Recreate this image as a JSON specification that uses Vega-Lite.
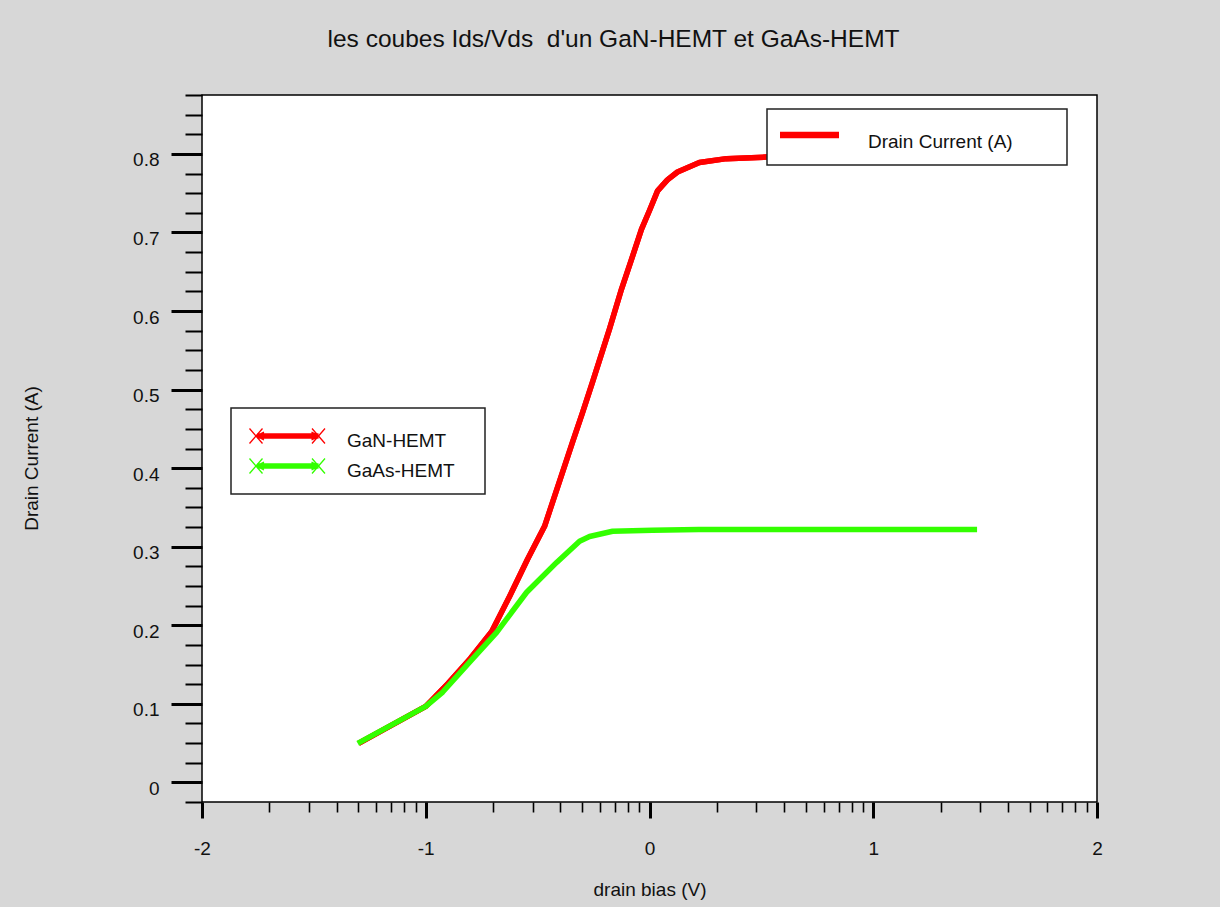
{
  "$schema": "https://vega.github.io/schema/vega-lite/v6.json",
  "width": 895,
  "height": 707,
  "autosize": {"type": "none"},
  "padding": {"left": 202, "top": 95, "right": 123, "bottom": 105},
  "background": "#d7d7d7",
  "title": {
    "text": "les coubes Ids/Vds\u00a0 d'un GaN-HEMT et GaAs-HEMT",
    "anchor": "middle",
    "frame": "group",
    "baseline": "alphabetic",
    "offset": 21,
    "dx": -36,
    "font": "Liberation Sans",
    "fontSize": 24.5,
    "fontWeight": "normal",
    "color": "#111111"
  },
  "config": {
    "view": {"fill": "white", "stroke": "#000000", "strokeWidth": 1.5},
    "font": "Liberation Sans",
    "axis": {
      "grid": false,
      "domain": false,
      "tickColor": "#000000",
      "labelFont": "Liberation Sans",
      "labelFontSize": 19,
      "labelColor": "#111111",
      "labelFlush": false,
      "labelOverlap": false,
      "labelBound": false,
      "titleFont": "Liberation Sans",
      "titleFontSize": 19,
      "titleFontWeight": "normal",
      "titleColor": "#111111"
    },
    "legend": {
      "strokeColor": "#222222",
      "strokeWidth": 1.5,
      "fillColor": "white",
      "labelFont": "Liberation Sans",
      "labelFontSize": 19,
      "labelColor": "#111111",
      "labelBaseline": "top",
      "symbolSize": 400,
      "symbolStrokeWidth": 1.3,
      "titleOrient": "right",
      "titleFontSize": 1,
      "titleColor": "white"
    }
  },
  "data": {
    "values": [
      {"device": "GaN-HEMT", "vds": -1.3, "ids": 0.0497},
      {"device": "GaN-HEMT", "vds": -1.0, "ids": 0.0968},
      {"device": "GaN-HEMT", "vds": -0.9, "ids": 0.126},
      {"device": "GaN-HEMT", "vds": -0.8, "ids": 0.158},
      {"device": "GaN-HEMT", "vds": -0.705, "ids": 0.192},
      {"device": "GaN-HEMT", "vds": -0.625, "ids": 0.237},
      {"device": "GaN-HEMT", "vds": -0.545, "ids": 0.284},
      {"device": "GaN-HEMT", "vds": -0.469, "ids": 0.326},
      {"device": "GaN-HEMT", "vds": -0.4, "ids": 0.385},
      {"device": "GaN-HEMT", "vds": -0.344, "ids": 0.433},
      {"device": "GaN-HEMT", "vds": -0.3, "ids": 0.47},
      {"device": "GaN-HEMT", "vds": -0.254, "ids": 0.51},
      {"device": "GaN-HEMT", "vds": -0.179, "ids": 0.577},
      {"device": "GaN-HEMT", "vds": -0.125, "ids": 0.628},
      {"device": "GaN-HEMT", "vds": -0.08, "ids": 0.666},
      {"device": "GaN-HEMT", "vds": -0.036, "ids": 0.704},
      {"device": "GaN-HEMT", "vds": 0.0, "ids": 0.728},
      {"device": "GaN-HEMT", "vds": 0.036, "ids": 0.753},
      {"device": "GaN-HEMT", "vds": 0.08, "ids": 0.767},
      {"device": "GaN-HEMT", "vds": 0.125, "ids": 0.777},
      {"device": "GaN-HEMT", "vds": 0.223, "ids": 0.789},
      {"device": "GaN-HEMT", "vds": 0.344, "ids": 0.794},
      {"device": "GaN-HEMT", "vds": 0.522, "ids": 0.796},
      {"device": "GaN-HEMT", "vds": 0.8, "ids": 0.797},
      {"device": "GaN-HEMT", "vds": 1.1, "ids": 0.797},
      {"device": "GaN-HEMT", "vds": 1.464, "ids": 0.797},
      {"device": "GaAs-HEMT", "vds": -1.304, "ids": 0.0497},
      {"device": "GaAs-HEMT", "vds": -1.0, "ids": 0.0968},
      {"device": "GaAs-HEMT", "vds": -0.924, "ids": 0.115},
      {"device": "GaAs-HEMT", "vds": -0.804, "ids": 0.153},
      {"device": "GaAs-HEMT", "vds": -0.683, "ids": 0.191},
      {"device": "GaAs-HEMT", "vds": -0.549, "ids": 0.242},
      {"device": "GaAs-HEMT", "vds": -0.415, "ids": 0.28},
      {"device": "GaAs-HEMT", "vds": -0.3125, "ids": 0.307},
      {"device": "GaAs-HEMT", "vds": -0.268, "ids": 0.313},
      {"device": "GaAs-HEMT", "vds": -0.165, "ids": 0.3197},
      {"device": "GaAs-HEMT", "vds": 0.013, "ids": 0.321},
      {"device": "GaAs-HEMT", "vds": 0.22, "ids": 0.322},
      {"device": "GaAs-HEMT", "vds": 1.464, "ids": 0.322}
    ]
  },
  "encoding": {
    "x": {
      "field": "vds",
      "type": "quantitative",
      "scale": {"domain": [-2, 2], "nice": false, "zero": false},
      "axis": {
        "title": "drain bias (V)",
        "values": [-2, -1.69897, -1.52288, -1.39794, -1.30103, -1.22185, -1.1549, -1.09691, -1.04576, -1, -0.69897, -0.52288, -0.39794, -0.30103, -0.22185, -0.1549, -0.09691, -0.04576, 0, 0.30103, 0.47712, 0.60206, 0.69897, 0.77815, 0.8451, 0.90309, 0.95424, 1, 1.30103, 1.47712, 1.60206, 1.69897, 1.77815, 1.8451, 1.90309, 1.95424, 2],
        "labelExpr": "datum.value === round(datum.value) ? '' + datum.value : ''",
        "tickSize": {"condition": {"test": "datum.value === round(datum.value)", "value": 16}, "value": 10},
        "tickWidth": {"condition": {"test": "datum.value === round(datum.value)", "value": 3}, "value": 1.6},
        "labelBaseline": "alphabetic",
        "labelPadding": 36,
        "titleBaseline": "alphabetic",
        "titleY": 93
      }
    },
    "y": {
      "field": "ids",
      "type": "quantitative",
      "scale": {"domain": [-0.025, 0.875], "nice": false, "zero": false},
      "axis": {
        "title": "Drain Current (A)",
        "values": [-0.025, 0, 0.025, 0.05, 0.075, 0.1, 0.125, 0.15, 0.175, 0.2, 0.225, 0.25, 0.275, 0.3, 0.325, 0.35, 0.375, 0.4, 0.425, 0.45, 0.475, 0.5, 0.525, 0.55, 0.575, 0.6, 0.625, 0.65, 0.675, 0.7, 0.725, 0.75, 0.775, 0.8, 0.825, 0.85, 0.875],
        "labelExpr": "abs(datum.value * 10 - round(datum.value * 10)) < 0.001 && datum.value > -0.01 ? '' + round(datum.value * 10) / 10 : ''",
        "tickSize": {"condition": {"test": "abs(datum.value * 10 - round(datum.value * 10)) < 0.001 && datum.value > -0.01", "value": 31}, "value": 17},
        "tickWidth": {"condition": {"test": "abs(datum.value * 10 - round(datum.value * 10)) < 0.001 && datum.value > -0.01", "value": 3}, "value": 2},
        "labelBaseline": "alphabetic",
        "labelOffset": 12,
        "labelPadding": 12,
        "titleBaseline": "alphabetic",
        "titleAngle": 270,
        "titleX": -165,
        "titleY": 363
      }
    }
  },
  "layer": [
    {
      "transform": [{"filter": "datum.device === 'GaN-HEMT'"}],
      "mark": {"type": "line", "strokeWidth": 5.5, "strokeJoin": "round"},
      "encoding": {
        "color": {
          "datum": "Drain Current (A)",
          "type": "nominal",
          "scale": {"domain": ["Drain Current (A)"], "range": ["#ff0000"]},
          "legend": {
            "title": "\u00a0",
            "titlePadding": 41,
            "orient": "none",
            "legendX": 565,
            "legendY": 14,
            "padding": 13,
            "symbolType": "M-2.95,-0.05L2.95,-0.05M-2.95,0.05L2.95,0.05M-2.95,0.15L2.95,0.15M-2.95,0.25L2.95,0.25M-2.95,0.35L2.95,0.35M-2.95,0.45L2.95,0.45",
            "symbolOffset": 18.5,
            "labelOffset": 47.5
          }
        }
      }
    },
    {
      "mark": {"type": "line", "strokeWidth": 5.5, "strokeJoin": "round"},
      "encoding": {
        "color": {
          "field": "device",
          "type": "nominal",
          "sort": ["GaN-HEMT", "GaAs-HEMT"],
          "scale": {"domain": ["GaN-HEMT", "GaAs-HEMT"], "range": ["#ff0000", "#33ff00"]},
          "legend": {
            "title": "\u00a0",
            "titlePadding": 17,
            "orient": "none",
            "legendX": 29,
            "legendY": 313,
            "padding": 13,
            "rowPadding": 0,
            "symbolType": "M-3.2,0.2L2.95,0.2M-3.2,0.3L2.95,0.3M-3.2,0.4L2.95,0.4M-3.2,0.5L2.95,0.5M-3.2,0.6L2.95,0.6M-3.3,0.4L-2.5,0M-3.3,0.4L-2.5,0.8M-3.3,0.4L-2.5,0.1M-3.3,0.4L-2.5,0.7M3.05,0.4L2.25,0M3.05,0.4L2.25,0.8M3.05,0.4L2.25,0.1M3.05,0.4L2.25,0.7M-3.95,-0.35L-2.65,1.15M-3.95,1.15L-2.65,-0.35M2.3,-0.35L3.6,1.15M2.3,1.15L3.6,-0.35",
            "symbolOffset": 34,
            "labelOffset": 47
          }
        }
      }
    }
  ],
  "resolve": {"scale": {"color": "independent"}}
}
